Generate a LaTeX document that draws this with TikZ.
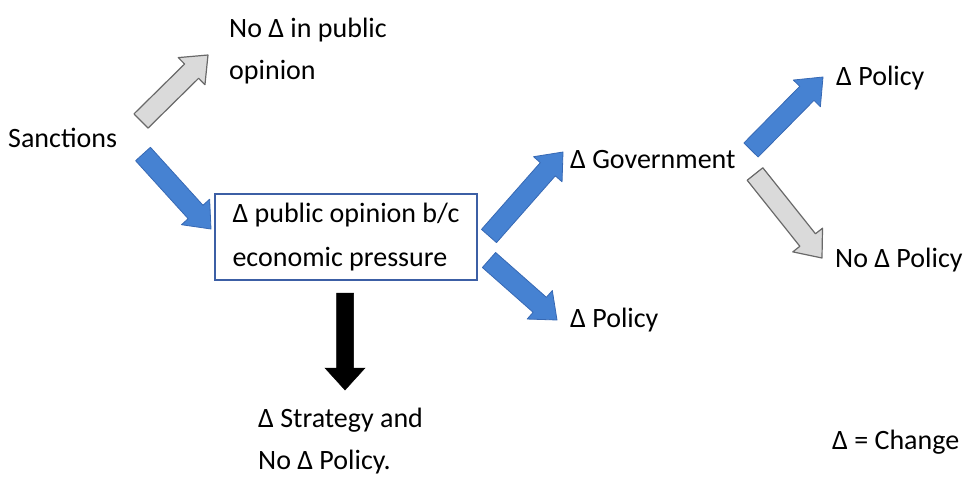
\documentclass[tikz,border=0pt]{standalone}
\usepackage{fontspec}
\setmainfont{Carlito}
\usetikzlibrary{calc}
\definecolor{arrblue}{RGB}{70,130,210}
\definecolor{arrblueedge}{RGB}{55,105,180}
\definecolor{arrgray}{RGB}{218,218,218}
\definecolor{arrgrayedge}{RGB}{105,105,105}
\definecolor{boxblue}{RGB}{60,95,165}
% block arrow: #1 style, #2 tail, #3 tip, #4 shaft half width, #5 head half width, #6 head length
\newcommand\blockarrow[6]{%
  \coordinate (ba-b) at ($(#3)!#6!(#2)$);
  \filldraw[#1] ($(#2)!#4!90:(#3)$) -- ($(ba-b)!#4!90:(#3)$) -- ($(ba-b)!#5!90:(#3)$)
    -- (#3) -- ($(ba-b)!#5!-90:(#3)$) -- ($(ba-b)!#4!-90:(#3)$) -- ($(#2)!#4!-90:(#3)$) -- cycle;
}
\tikzset{
  lbl/.style={font=\fontsize{28}{42}\selectfont, inner sep=0pt, align=left, anchor=west},
  bluearr/.style={fill=arrblue, draw=arrblueedge, line width=0.8pt, line join=round},
  grayarr/.style={fill=arrgray, draw=arrgrayedge, line width=1.2pt, line join=round},
  blackarr/.style={fill=black, draw=black, line width=0.5pt},
  opbox/.style={draw=boxblue, line width=2.2pt, minimum width=262pt, minimum height=86pt,
    font=\fontsize{28}{44}\selectfont, align=left, inner sep=0pt}
}
\begin{document}
\begin{tikzpicture}[x=1pt,y=-1pt]
\useasboundingbox (0,0) rectangle (970,482);

% texts
\node[lbl] (sanc) at (8,138) {Sanctions};
\node[lbl] (noop) at (229,51) {No Δ in public\\opinion};
\node[opbox] (box) at (346,237) {Δ public opinion b/c\\economic pressure};
\node[lbl] (gov) at (570,160) {Δ Government};
\node[lbl] (pol1) at (570,320) {Δ Policy};
\node[lbl] (pol2) at (836,78) {Δ Policy};
\node[lbl] (nopol) at (835,260) {No Δ Policy};
\node[lbl] (strat) at (258,441) {Δ Strategy and\\No Δ Policy.};
\node[lbl] (legend) at (832,442) {Δ = Change};

% arrow end points
\coordinate (g1t) at (141,121); \coordinate (g1h) at (208,55);
\coordinate (b1t) at (143,154); \coordinate (b1h) at (211,229);
\coordinate (kt) at (345,293);  \coordinate (kh) at (345,390);
\coordinate (b2t) at (489,236); \coordinate (b2h) at (563,152);
\coordinate (b3t) at (489,260); \coordinate (b3h) at (557,320);
\coordinate (b4t) at (751,150); \coordinate (b4h) at (823,77);
\coordinate (g2t) at (755,174); \coordinate (g2h) at (822,258);

\blockarrow{grayarr}{g1t}{g1h}{10pt}{19pt}{23pt}
\blockarrow{bluearr}{b1t}{b1h}{10pt}{19pt}{23pt}
\blockarrow{blackarr}{kt}{kh}{8.5pt}{20pt}{22pt}
\blockarrow{bluearr}{b2t}{b2h}{10pt}{19pt}{23pt}
\blockarrow{bluearr}{b3t}{b3h}{10pt}{19pt}{23pt}
\blockarrow{bluearr}{b4t}{b4h}{10pt}{19pt}{23pt}
\blockarrow{grayarr}{g2t}{g2h}{10pt}{19pt}{23pt}
\end{tikzpicture}
\end{document}
